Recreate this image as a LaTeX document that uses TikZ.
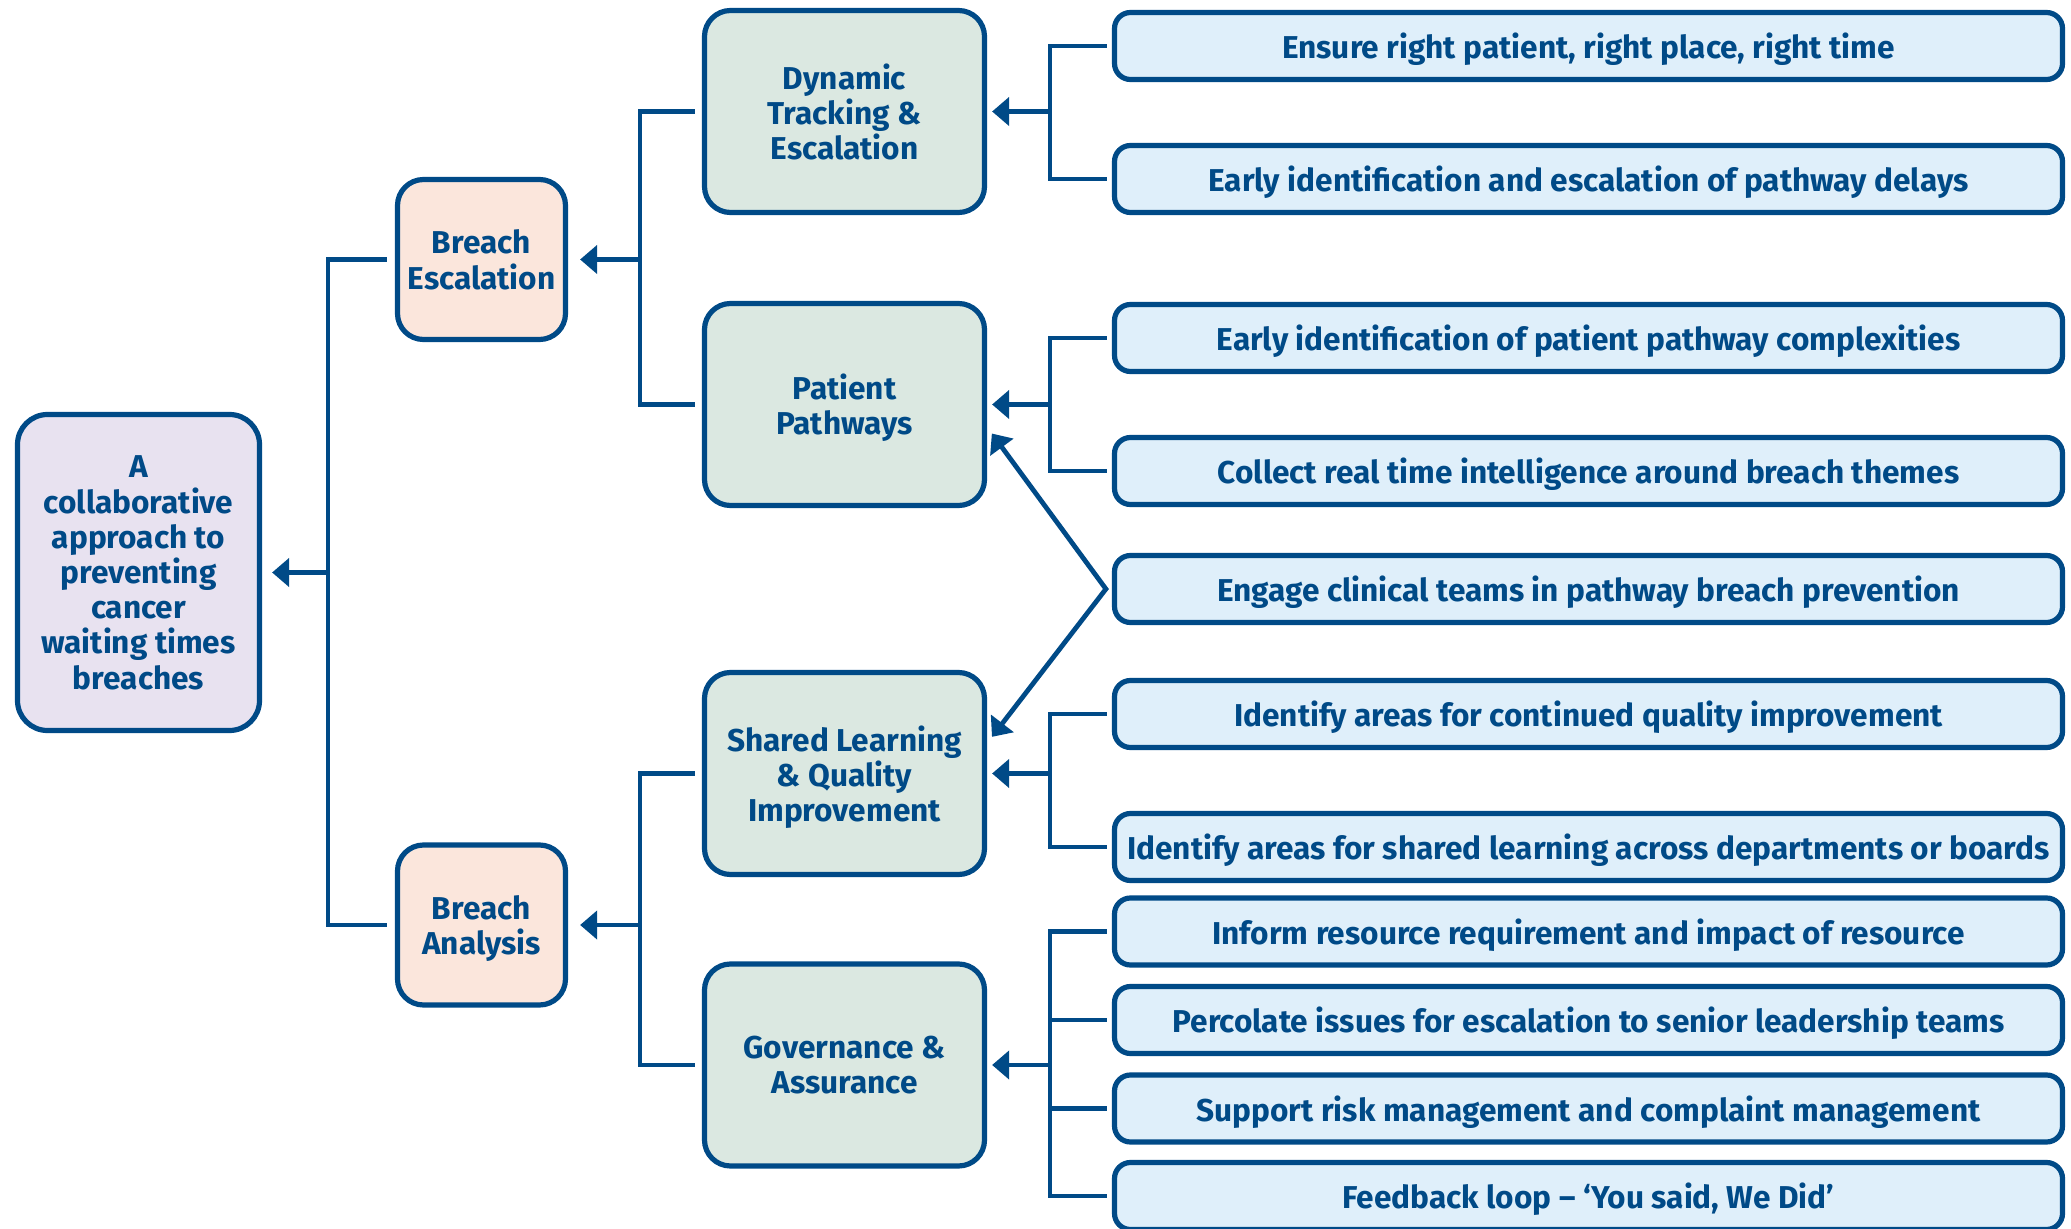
\documentclass[tikz,border=0pt]{standalone}
\usepackage{fontspec}
\setmainfont{Fira Sans}
\usetikzlibrary{
  arrows.meta,
  positioning
}
\definecolor{navy}{HTML}{004A87}
\definecolor{lavender}{HTML}{E8E2F0}
\definecolor{peach}{HTML}{FBE6DC}
\definecolor{sage}{HTML}{DBE8E1}
\definecolor{sky}{HTML}{DFEFFA}
\tikzset{
  % For all boxes.
  box/.style={
    draw=navy,
    line width=2.6pt,
    text=navy,
    align=center,
    inner sep=0pt,
    text depth=0pt,
    font=\bfseries\fontsize{15.8pt}{17.6pt}\selectfont},
%
  % For the aim on the left.
  aim box/.style={
    box,
    fill=lavender,
    rounded corners=15pt,
    minimum width=121pt,
    minimum height=158pt},
%
  % For the two breach boxes.
  breach box/.style={
    box,
    fill=peach,
    rounded corners=13pt,
    minimum width=84pt,
    minimum height=80pt},
%
  % For the four themes.
  theme box/.style={
    box,
    fill=sage,
    rounded corners=13pt,
    minimum width=140pt,
    minimum height=101pt},
%
  % For the actions on the right.
  action box/.style={
    box,
    fill=sky,
    rounded corners=8pt,
    minimum width=474pt,
    minimum height=33.5pt},
%
  % For bracket lines.
  link/.style={
    draw=navy,
    line width=2.4pt},
%
  % For lines that end in an arrow.
  arrow/.style={
    link,
    -{Triangle[length=8.5pt,width=14pt]}},
}

\begin{document}
\begin{tikzpicture}[x=0.5pt,y=-0.5pt]
  \useasboundingbox (0,0) rectangle (2071,1229);

  \node[aim box] (aim) at (138.5,572.5)
    {A\\collaborative\\approach to\\preventing\\cancer\\waiting times\\breaches};

  \node[breach box] (escal) at (481.5,259.5) {Breach\\Escalation};
  \node[breach box] (analysis) at (481.5,925) {Breach\\Analysis};

  \node[theme box] (track) at (844.5,111.5) {Dynamic\\Tracking \&\\Escalation};
  \node[theme box] (path) at (844.5,404.5) {Patient\\Pathways};
  \node[theme box] (learn) at (844.5,773.5) {Shared Learning\\\& Quality\\Improvement};
  \node[theme box] (gov) at (844.5,1065) {Governance \&\\Assurance};

  \node[action box] (a1) at (1588.5,46) {Ensure right patient, right place, right time};
  \node[action box] (a2) at (1588.5,179) {Early identification and escalation of pathway delays};
  \node[action box] (a3) at (1588.5,338) {Early identification of patient pathway complexities};
  \node[action box] (a4) at (1588.5,471) {Collect real time intelligence around breach themes};
  \node[action box] (a5) at (1588.5,589) {Engage clinical teams in pathway breach prevention};
  \node[action box] (a6) at (1588.5,714) {Identify areas for continued quality improvement};
  \node[action box] (a7) at (1588.5,847) {Identify areas for shared learning across departments or boards};
  \node[action box] (a8) at (1588.5,931.5) {Inform resource requirement and impact of resource};
  \node[action box] (a9) at (1588.5,1020) {Percolate issues for escalation to senior leadership teams};
  \node[action box] (a10) at (1588.5,1108.5) {Support risk management and complaint management};
  \node[action box] (a11) at (1588.5,1196) {Feedback loop -- `You said, We Did'};

  % Junctions of the brackets.
  \coordinate (jaim) at (328,572.5);
  \coordinate (jescal) at (640,259.5);
  \coordinate (janalysis) at (640,925);
  \coordinate (jtrack) at (1050,111.5);
  \coordinate (jpath) at (1050,404.5);
  \coordinate (jlearn) at (1050,773.5);
  \coordinate (jgov) at (1050,1065);
  \coordinate[left=3pt of a5] (engage);

  \draw[link, shorten <=4pt] (escal.west) -| (jaim);
  \draw[link, shorten <=4pt] (analysis.west) -| (jaim);
  \draw[arrow, shorten >=5pt] (jaim) -- (aim.east);

  \draw[link, shorten <=3.5pt] (track.west) -| (jescal);
  \draw[link, shorten <=3.5pt] (path.west) -| (jescal);
  \draw[arrow, shorten >=6pt] (jescal) -- (escal.east);

  \draw[link, shorten <=3.5pt] (learn.west) -| (janalysis);
  \draw[link, shorten <=3.5pt] (gov.west) -| (janalysis);
  \draw[arrow, shorten >=6pt] (janalysis) -- (analysis.east);

  \draw[link, shorten <=2.5pt] (a1.west) -| (jtrack);
  \draw[link, shorten <=2.5pt] (a2.west) -| (jtrack);
  \draw[arrow, shorten >=2.5pt] (jtrack) -- (track.east);

  \draw[link, shorten <=2.5pt] (a3.west) -| (jpath);
  \draw[link, shorten <=2.5pt] (a4.west) -| (jpath);
  \draw[arrow, shorten >=2.5pt] (jpath) -- (path.east);

  \draw[link, shorten <=2.5pt] (a6.west) -| (jlearn);
  \draw[link, shorten <=2.5pt] (a7.west) -| (jlearn);
  \draw[arrow, shorten >=2.5pt] (jlearn) -- (learn.east);

  \draw[link, shorten <=2.5pt] (a8.west) -| (jgov);
  \draw[link, shorten <=2.5pt] (a9.west) -| (jgov);
  \draw[link, shorten <=2.5pt] (a10.west) -| (jgov);
  \draw[link, shorten <=2.5pt] (a11.west) -| (jgov);
  \draw[arrow, shorten >=2.5pt] (jgov) -- (gov.east);

  \draw[link, {Triangle[length=8.5pt,width=14pt]}-{Triangle[length=8.5pt,width=14pt]},
        shorten <=4pt, shorten >=4pt]
    (path.-9) -- (engage) -- (learn.12);
\end{tikzpicture}
\end{document}
